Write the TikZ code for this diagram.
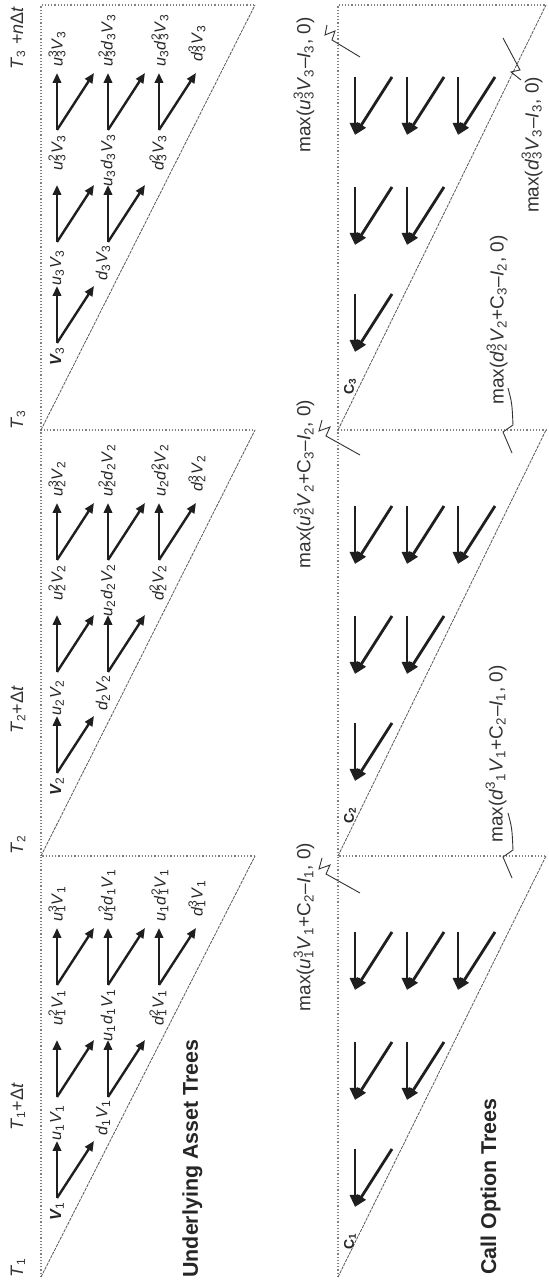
\documentclass[tikz,border=0pt]{standalone}
\usepackage{fontspec}
\setmainfont{Liberation Sans}
\usetikzlibrary{arrows.meta,calc}
\newcommand\sbx[1]{\textsubscript{#1}}
\newcommand\sbsup[2]{\rlap{\textsuperscript{#2}}\textsubscript{#1}}
\newcommand\vi[1]{\textit{#1}}
\tikzset{
  lab/.style={font=\fontsize{8}{9}\selectfont, inner sep=0pt, text=black!85},
  tlab/.style={font=\fontsize{9}{11}\selectfont, inner sep=0pt, text=black!80},
  mlab/.style={font=\fontsize{9.5}{11}\selectfont, inner sep=0pt, text=black!80},
  clab/.style={font=\bfseries\fontsize{7}{8}\selectfont, inner sep=0pt, text=black!85},
  ttl/.style={font=\bfseries\fontsize{10.7}{13}\selectfont, inner sep=0pt, text=black!85},
  arr/.style={line width=1.2pt, draw=black!88, -{Triangle[length=5pt,width=4.2pt]}},
  carr/.style={line width=1.4pt, draw=black!88, -{Triangle[length=6pt,width=5pt]}},
  edgeline/.style={draw=gray, densely dotted, line width=0.6pt},
  hyp/.style={draw=gray!70!black, dash pattern=on 1.6pt off 0.5pt, line width=0.4pt},
  lead/.style={draw=black!80, line width=0.45pt},
}
% asset tree panel: #1 index, #2 shift
\newcommand\assetpanel[2]{%
\begin{scope}[shift={(#2,0)}]
  \coordinate (va#1) at (90,491);
  \coordinate (vb#1) at (191,491);
  \coordinate (vc#1) at (191,440);
  \coordinate (vd#1) at (303,491);
  \coordinate (ve#1) at (303,440);
  \coordinate (vf#1) at (303,389);
  \node[lab,anchor=east] (la#1) at (87,491) {\textbf{\textit{V}}\sbx{#1}};
  \node[lab,anchor=east] (lb#1) at (184,491) {\vi{u}\sbx{#1}\vi{V}\sbx{#1}};
  \node[lab,anchor=east] (lc#1) at (189,445) {\vi{d}\sbx{#1}\vi{V}\sbx{#1}};
  \node[lab,anchor=east] (ld#1) at (299,491) {\vi{u}\sbsup{#1}{2}\vi{V}\sbx{#1}};
  \node[lab,anchor=east] (le#1) at (300,440) {\vi{u}\sbx{#1}\vi{d}\sbx{#1}\vi{V}\sbx{#1}};
  \node[lab,anchor=east] (lf#1) at (299,390) {\vi{d}\sbsup{#1}{2}\vi{V}\sbx{#1}};
  \node[lab,anchor=west] (lg#1) at (366,491) {\vi{u}\sbsup{#1}{3}\vi{V}\sbx{#1}};
  \node[lab,anchor=west] (lh#1) at (366,441) {\vi{u}\sbsup{#1}{2}\vi{d}\sbx{#1}\vi{V}\sbx{#1}};
  \node[lab,anchor=west] (li#1) at (366,388) {\vi{u}\sbx{#1}\vi{d}\sbsup{#1}{2}\vi{V}\sbx{#1}};
  \node[lab,anchor=west] (lj#1) at (371,351) {\vi{d}\sbsup{#1}{3}\vi{V}\sbx{#1}};
  \foreach \v in {va,vb,vc,vd,ve,vf}{
    \draw[arr] (\v#1) -- ++(57,0);
    \draw[arr] (\v#1) -- ++(57,-37);
  }
\end{scope}}
% call tree panel: #1 index, #2 shift
\newcommand\callpanel[2]{%
\begin{scope}[shift={(#2,0)}]
  \foreach \n/\hx/\hy in {p/81/193, q/188/193, r/188/141, s/298/193, t/298/141, w/298/90}{
    \coordinate (h\n#1) at (\hx,\hy);
    \coordinate (ta\n#1) at ($(\hx,\hy)+(58,0)$);
    \coordinate (tb\n#1) at ($(\hx,\hy)+(58,-37)$);
    \draw[carr] (ta\n#1) -- (h\n#1);
    \draw[carr] (tb\n#1) -- (h\n#1);
  }
  \node[clab] (c#1) at (47,198) {C\sbx{#1}};
\end{scope}}
\begin{document}
\begin{tikzpicture}[x=0.5pt,y=0.5pt]
\begin{scope}[rotate=90, transform shape]
  \fill[white] (0,0) rectangle (1288,548);
  \useasboundingbox (0,0) rectangle (1288,548);
  % triangles
  \foreach \l/\r in {11/432, 432/858, 858/1283}{
    \draw[edgeline] (\l,507) -- (\r,507) -- (\r,293);
    \draw[hyp] (\l,507) -- (\r,293);
    \draw[edgeline] (\l,210) -- (\r,210) -- (\r,2);
    \draw[hyp] (\l,210) -- (\r,2);
  }
  % time labels
  \node[tlab] (t1) at (20,530) {\vi{T}\sbx{1}};
  \node[tlab] (t1d) at (181,530) {\vi{T}\sbx{1}+Δ\vi{t}};
  \node[tlab] (t2) at (443,530) {\vi{T}\sbx{2}};
  \node[tlab] (t2d) at (578,530) {\vi{T}\sbx{2}+Δ\vi{t}};
  \node[tlab] (t3) at (868,530) {\vi{T}\sbx{3}};
  \node[tlab] (t3d) at (1250,530) {\vi{T}\sbx{3} +\vi{n}Δ\vi{t}};
  % trees
  \assetpanel{1}{0}
  \assetpanel{2}{425}
  \assetpanel{3}{855}
  \callpanel{1}{0}
  \callpanel{2}{426}
  \callpanel{3}{855}
  % titles
  \node[ttl,anchor=base west] (ua) at (10,350) {Underlying Asset Trees};
  \node[ttl,anchor=base west] (co) at (13,52) {Call Option Trees};
  % payoff labels
  \node[mlab] (m1) at (361,244) {max(\vi{u}\sbsup{1}{3}\vi{V}\sbx{1}+C\sbx{2}–\vi{I}\sbx{1}, 0)};
  \node[mlab] (m2) at (804,244) {max(\vi{u}\sbsup{2}{3}\vi{V}\sbx{2}+C\sbx{3}–\vi{I}\sbx{2}, 0)};
  \node[mlab] (m3) at (1203,244) {max(\vi{u}\sbsup{3}{3}\vi{V}\sbx{3}–\vi{I}\sbx{3}, 0)};
  \node[mlab] (n1) at (534,52) {max(\vi{d}\textsuperscript{3}\sbx{1}\vi{V}\sbx{1}+C\sbx{2}–\vi{I}\sbx{1}, 0)};
  \node[mlab] (n2) at (968,51) {max(\vi{d}\sbsup{2}{3}\vi{V}\sbx{2}+C\sbx{3}–\vi{I}\sbx{2}, 0)};
  \node[mlab] (n3) at (1143,16) {max(\vi{d}\sbsup{3}{3}\vi{V}\sbx{3}–\vi{I}\sbx{3}, 0)};
  % leaders
  \draw[lead] (395,188) -- (414,222) -- (423,218) -- (419,229) -- (430,226);
  \draw[lead] (833,188) -- (852,222) -- (861,218) -- (857,229) -- (868,226);
  \draw[lead] (1231,188) -- (1248,216) -- (1257,213) -- (1253,223) -- (1263,221);
  \draw[lead] (475,40) .. controls (460,36) .. (438,35) -- (431,45) -- (410,36);
  \draw[lead] (900,40) .. controls (885,36) .. (863,35) -- (856,45) -- (835,36);
  \draw[lead] (1250,45) -- (1218,28) -- (1216,37) -- (1208,27);
\end{scope}
\end{tikzpicture}
\end{document}
